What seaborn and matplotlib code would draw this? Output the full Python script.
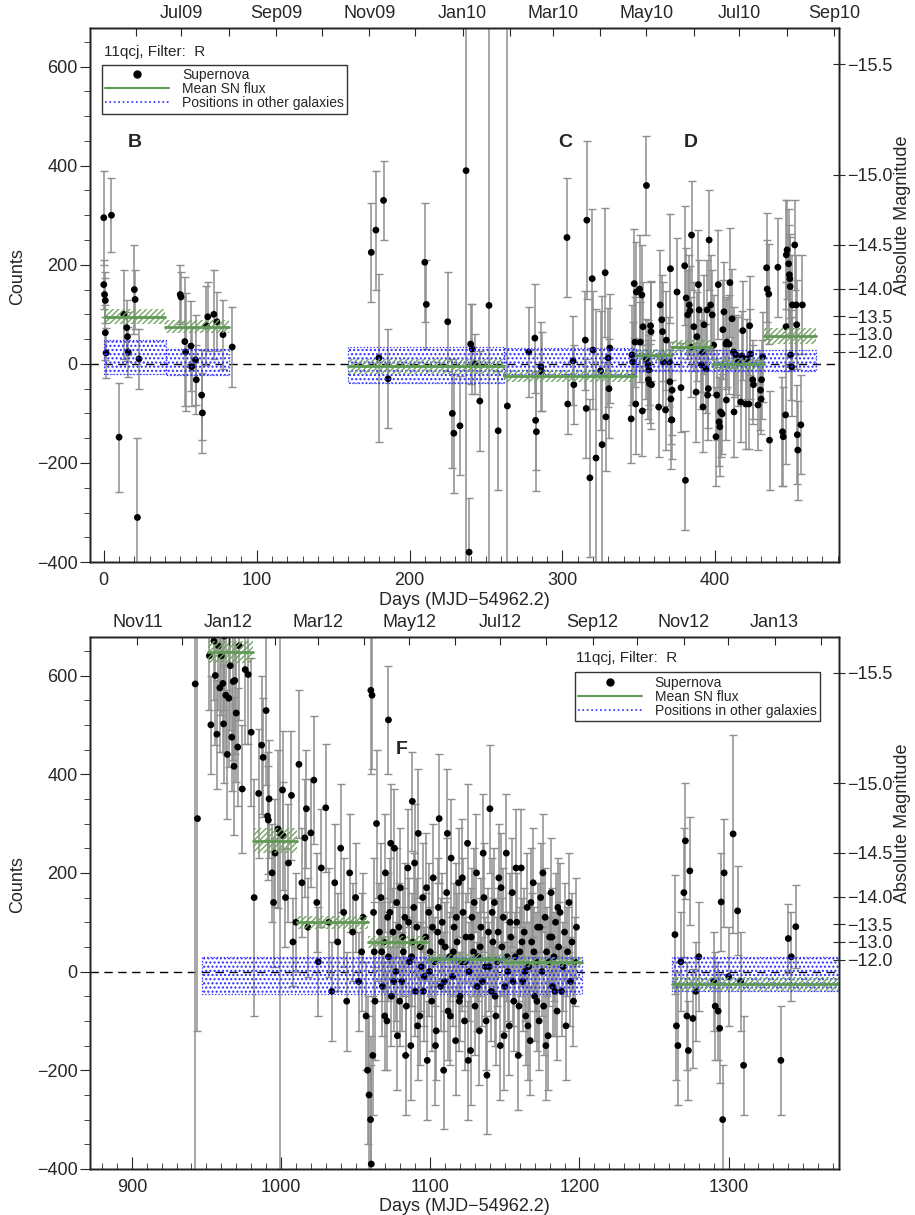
import numpy as np
import pandas as pd
import matplotlib
matplotlib.use("Agg")
import matplotlib.pyplot as plt
import seaborn as sns
from matplotlib.lines import Line2D
from matplotlib.ticker import MultipleLocator, NullLocator

sns.set_style("ticks")
plt.rcParams["font.family"] = ["Liberation Sans", "DejaVu Sans"]
plt.rcParams["hatch.linewidth"] = 1.0

# ---------------- data: top panel (2009-2010) ----------------
top_days = [
    0, 0, 0.5, 1, 1, 1.5, 5, 10, 13, 15,
    15.5, 16, 20, 20.5, 22, 23,
    50, 50.5, 53, 53.5, 57, 57.5, 60, 60.5, 64, 64.5,
    67, 68, 72, 74, 78, 84,
    175, 178, 180, 183, 186, 210, 211, 225, 228, 229,
    233, 237, 239, 240, 241, 243, 246, 252, 258, 264,
    278, 282, 282.5, 283, 286, 286.5, 303, 303.5, 307, 307.5,
    315, 315.6, 316, 318, 319.5, 320, 322, 325, 326, 328,
    328.5, 330, 330.5, 331,
    345, 345.5, 346, 347, 347.5, 348, 348.4, 350.5, 351, 352,
    352.3, 352.7, 355, 355, 356, 356.3, 356.6, 357, 357.7, 358,
    358.3, 363, 364, 365, 365.5, 366, 367.5, 368, 370, 370.3,
    370.7, 371, 371.3, 371.6, 371.8, 375, 377.6, 380, 380.5, 381,
    382, 383, 383.5, 384, 384.5, 386, 387.5, 388, 389, 389.5,
    391, 391.5, 392, 392.7, 394, 394.7, 395, 395.5, 396, 397,
    398, 399, 400.5, 401, 402, 402.5, 403, 403.5, 404.5, 405,
    405.7, 407, 407.3, 407.6, 409, 409.6, 411, 412, 412.3, 413.5,
    415, 416.7, 417.4, 418, 420, 420.6, 422, 422.5, 423, 424.5,
    425, 428, 429.6, 430, 430.3, 431, 433.6, 434, 435, 435.5,
    441, 444, 444.5, 446, 446.3, 446.5, 447, 448, 448.5, 448.8,
    449, 449.3, 450, 450.5, 452, 453, 453.3, 453.7, 454, 456,
    457,
]
top_counts = [
    295, 160, 140, 128, 63, 22, 300, -148, 100, 73,
    55, 24, 150, 130, -310, 10,
    140, 135, 45, 24, 36, -6, 8, -32, -63, -99,
    77, 95, 100, 85, 59, 34,
    225, 270, 12, 330, -30, 205, 120, 85, -100, -140,
    -125, 390, -380, 40, 30, 0, -75, 118, -135, -85,
    24, 52, -114, -137, -6, -16, 255, -81, 6, -42,
    48, -90, 290, -230, 172, 28, -190, -14, -163, 184,
    -107, 12, -50, 32,
    -111, 18, 4, 162, 44, -81, 145, 151, 44, 139,
    -95, 75, 10, 360, -2, -32, -12, -40, 77, 65,
    -42, -87, 119, 89, 65, 4, -93, 48, 4, -36,
    192, -71, -113, -113, -53, 145, -48, 198, -235, 133,
    99, 119, 107, 34, 260, 75, -57, 55, 160, 109,
    -2, 24, -87, 79, -10, 109, -63, -50, 250, 119,
    99, 38, -147, -63, 160, -117, -127, -97, -101, 69,
    105, 40, -73, 44, 40, 164, 91, 24, -97, 18,
    4, -77, 16, 67, -81, 10, -81, 77, 20, -32,
    -42, -83, -53, -71, -32, 14, 194, 151, 141, -154,
    195, -137, -147, -103, 75, 220, 230, 202, 180, 172,
    156, 18, -6, 119, 240, 119, 79, -143, -174, -123,
    119,
]
top_errs = [
    95, 50, 45, 45, 55, 50, 75, 110, 90, 55,
    50, 50, 90, 60, 160, 60,
    60, 50, 130, 120, 90, 80, 90, 70, 90, 80,
    80, 70, 90, 60, 70, 80,
    100, 120, 170, 80, 100, 120, 90, 100, 110, 120,
    100, 900, 110, 80, 90, 60, 100, 900, 120, 900,
    90, 110, 100, 120, 90, 80, 120, 60, 90, 80,
    100, 100, 160, 160, 140, 120, 300, 120, 300, 130,
    110, 100, 100, 110,
    90, 100, 80, 110, 90, 100, 100, 110, 80, 100,
    90, 90, 80, 100, 90, 80, 70, 80, 90, 100,
    90, 100, 110, 90, 100, 90, 80, 100, 90, 80,
    110, 90, 100, 80, 90, 110, 90, 120, 100, 100,
    90, 100, 90, 100, 110, 90, 100, 90, 110, 100,
    90, 80, 90, 100, 90, 100, 90, 80, 100, 100,
    90, 100, 100, 90, 110, 90, 100, 90, 80, 100,
    100, 90, 80, 90, 100, 110, 100, 90, 90, 80,
    90, 80, 90, 100, 90, 80, 90, 100, 90, 80,
    80, 90, 80, 70, 80, 90, 110, 100, 100, 100,
    100, 110, 100, 100, 90, 110, 100, 110, 100, 90,
    100, 90, 100, 100, 90, 100, 90, 100, 100, 100,
    100,
]

# mean SN flux bins: start, end, mean, error
top_green_x0 = [0, 40, 160, 262, 348, 372, 398, 432]
top_green_x1 = [40, 82, 262, 348, 372, 398, 432, 466]
top_green_mean = [95, 75, -5, -25, 18, 35, 0, 57]
top_green_err = [15, 13, 15, 12, 12, 13, 12, 16]
# positions in other galaxies: start, end, low, high
top_blue_x0 = [0, 41, 160, 262, 348]
top_blue_x1 = [41, 82, 262, 348, 466]
top_blue_lo = [-20, -22, -38, -20, -14]
top_blue_hi = [48, 30, 35, 33, 28]

# ---------------- data: bottom panel (2011-2013) ----------------
bot_days = [
    942.5, 944, 952, 953, 955, 956, 957, 958, 959, 960,
    961, 961.5, 962, 963, 964, 965, 966, 967, 968, 968.5,
    969, 970, 971, 972, 974, 976, 978, 980, 982, 985,
    987, 988, 990, 991, 991.5, 992, 994, 995, 996, 998,
    999.5, 1001, 1001.5, 1003, 1005, 1007, 1008, 1010, 1012, 1014,
    1016, 1017, 1018, 1020, 1022, 1024, 1025, 1027, 1030, 1032,
    1034, 1036, 1038, 1040, 1042, 1044, 1046, 1048, 1050, 1052,
    1054, 1055, 1057, 1058, 1059, 1060, 1060.5, 1060.2, 1061, 1061.5,
    1062, 1062.5, 1063, 1064, 1066, 1072, 1088,
    1067, 1068, 1069, 1070, 1071, 1072, 1073, 1074, 1075, 1076,
    1077, 1078, 1079, 1080, 1081, 1082, 1083, 1084, 1085, 1086,
    1087, 1088, 1089, 1090, 1091, 1092, 1093, 1094, 1095, 1096,
    1097, 1098, 1099, 1100, 1101, 1102, 1103, 1104, 1105, 1106,
    1107, 1108, 1109, 1110, 1111, 1112, 1113, 1114, 1115, 1116,
    1117, 1118, 1119, 1120, 1121, 1122, 1123, 1124, 1125, 1126,
    1127, 1128, 1129, 1130, 1131, 1132, 1133, 1134, 1135, 1136,
    1137, 1138, 1139, 1140, 1141, 1142, 1143, 1144, 1145, 1146,
    1147, 1148, 1149, 1150, 1151, 1152, 1153, 1154, 1155, 1156,
    1157, 1158, 1159, 1160, 1161, 1162, 1163, 1164, 1165, 1166,
    1167, 1168, 1169, 1170, 1171, 1172, 1173, 1174, 1175, 1176,
    1177, 1178, 1179, 1180, 1181, 1182, 1183, 1184, 1185, 1186,
    1187, 1188, 1189, 1190, 1191, 1192, 1193, 1194, 1195, 1196,
    1197, 1198,
    1067.5, 1069.5, 1071.5, 1073.5, 1075.5, 1077.5, 1079.5, 1081.5, 1083.5, 1085.5,
    1087.5, 1089.5, 1091.5, 1093.5, 1095.5, 1097.5, 1099.5, 1101.5, 1103.5, 1105.5,
    1107.5, 1109.5, 1111.5, 1113.5, 1115.5, 1117.5, 1119.5, 1121.5, 1123.5, 1125.5,
    1127.5, 1129.5, 1131.5, 1133.5, 1135.5, 1137.5, 1139.5, 1141.5, 1143.5, 1145.5,
    1147.5, 1149.5, 1151.5, 1153.5, 1155.5, 1157.5, 1159.5, 1161.5, 1163.5, 1165.5,
    1167.5, 1169.5, 1171.5, 1173.5, 1175.5, 1177.5, 1179.5, 1181.5, 1183.5, 1185.5,
    1264, 1265, 1266, 1268, 1270, 1271, 1272, 1273, 1274, 1276,
    1278, 1280, 1290, 1291, 1293, 1294, 1295, 1296, 1297, 1300,
    1303, 1306, 1308, 1310, 1335, 1340, 1342, 1345,
]
bot_counts = [
    583, 310, 640, 500, 670, 600, 481, 660, 575, 640,
    584, 502, 680, 560, 440, 554, 620, 475, 588, 416,
    590, 524, 455, 660, 370, 612, 602, 485, 150, 361,
    459, 434, 529, 315, 307, 350, 200, 140, 240, 289,
    280, 368, 275, 150, 220, 357, 60, 100, 420, 180,
    271, 330, 90, 281, 388, 140, 20, 210, 332, 100,
    -40, 180, 60, 250, 120, -60, 200, 80, 150, -20,
    40, 110, -90, -200, -250, -300, -390, 570, 560, -170,
    120, 40, -60, 300, 80, 510, 345,
    150, -30, 60, 200, -100, 30, 120, -50, 80, 250,
    0, -130, 90, 170, -20, 40, 110, -70, 210, 20,
    -150, 60, 130, -40, 90, 280, -90, 10, 150, -10,
    70, -180, 120, 40, -60, 190, 20, -120, 80, 310,
    -30, 100, -200, 50, 160, -80, 30, 230, -10, 90,
    -140, 60, 180, -50, 20, 120, -100, 70, 260, 0,
    -160, 110, 40, -70, 200, 30, -120, 90, -20, 150,
    10, -210, 80, 330, -40, 60, 140, -90, 20, 190,
    -150, 50, 110, -30, 240, 0, -110, 70, 160, -60,
    30, 100, -170, 40, 210, -20, 80, -90, 130, 10,
    -140, 60, 180, -50, 20, 90, -100, 150, 0, -70,
    110, 40, -130, 70, 160, -30, 30, 100, -80, 50,
    120, -40, 10, 80, -110, 40, 140, -20, 60, -60,
    20, 90,
    40, -90, 110, 260, -20, 140, -60, 70, -170, 100,
    30, 220, -110, 50, -40, 170, 0, 90, -150, 130,
    60, -20, 280, -90, 40, 110, -60, 190, 20, -180,
    70, 140, -30, 50, 240, -100, 10, 120, -50, 80,
    170, -130, 30, 100, -20, 210, -70, 60, 0, -110,
    140, 40, -60, 90, 200, -150, 20, 70, -40, 130,
    75, -110, -150, 20, 160, 265, -90, -160, 204, -95,
    -40, 30, -20, -70, -80, -115, 141, -300, 200, -10,
    279, 123, -20, -190, -180, 67, 30, 91,
]
bot_errs = [
    1100, 430, 110, 100, 120, 140, 110, 130, 130, 120,
    140, 120, 150, 120, 130, 140, 130, 110, 160, 140,
    150, 140, 120, 150, 130, 150, 140, 150, 240, 130,
    140, 120, 150, 130, 110, 120, 100, 130, 110, 160,
    700, 120, 110, 100, 120, 130, 90, 100, 150, 110,
    120, 120, 100, 110, 130, 100, 110, 120, 130, 110,
    100, 120, 100, 130, 110, 100, 120, 100, 110, 100,
    120, 90, 110, 150, 160, 170, 200, 170, 150, 120,
    110, 100, 120, 150, 100, 110, 100,
    110, 100, 90, 120, 100, 90, 110, 100, 90, 120,
    100, 110, 90, 120, 100, 90, 110, 100, 120, 90,
    110, 100, 110, 90, 100, 130, 100, 90, 110, 100,
    90, 120, 100, 90, 100, 110, 90, 100, 100, 130,
    90, 100, 120, 90, 110, 100, 90, 120, 100, 90,
    110, 100, 110, 90, 100, 110, 100, 90, 120, 100,
    110, 100, 90, 100, 120, 90, 110, 100, 90, 110,
    100, 120, 90, 130, 100, 90, 110, 100, 90, 110,
    110, 100, 100, 90, 120, 100, 100, 90, 110, 100,
    90, 100, 110, 90, 120, 100, 90, 100, 110, 90,
    110, 100, 110, 90, 100, 90, 100, 110, 90, 100,
    100, 90, 110, 90, 110, 100, 90, 100, 100, 90,
    100, 90, 90, 100, 110, 90, 100, 90, 100, 90,
    90, 100,
    100, 110, 90, 120, 100, 110, 90, 100, 120, 90,
    100, 120, 110, 90, 100, 110, 90, 100, 120, 100,
    90, 100, 130, 100, 90, 110, 100, 120, 90, 120,
    100, 110, 90, 100, 120, 100, 90, 110, 100, 90,
    110, 110, 90, 100, 90, 120, 100, 90, 100, 110,
    110, 90, 100, 90, 120, 110, 90, 100, 90, 100,
    120, 110, 120, 100, 130, 118, 110, 100, 110, 100,
    100, 110, 100, 110, 100, 110, 100, 110, 110, 100,
    200, 90, 100, 100, 110, 70, 90, 84,
]

bot_green_x0 = [951, 981, 1011, 1058, 1098, 1150, 1262]
bot_green_x1 = [981, 1011, 1058, 1098, 1150, 1202, 1380]
bot_green_mean = [648, 265, 100, 60, 25, 20, -25]
bot_green_err = [22, 25, 13, 12, 10, 10, 15]
bot_blue_x0 = [947, 1262]
bot_blue_x1 = [1202, 1380]
bot_blue_lo = [-45, -40]
bot_blue_hi = [30, 30]

# magnitude axis calibration (counts at M = -14.0)
MAG_TICKS = [-15.5, -15.0, -14.5, -14.0, -13.5, -13.0, -12.0]
MAG_LABELS = ["\u221215.5", "\u221215.0", "\u221214.5", "\u221214.0",
              "\u221213.5", "\u221213.0", "\u221212.0"]
COUNTS_AT_M14 = 152.0
MJD0 = 54962.2

GREEN = "#74a566"
GREEN_LINE = "#5f9a55"
BLUE = "#2a2aff"
ERRC = "#8e8e8e"


def mag_to_counts(m):
    return COUNTS_AT_M14 * 10 ** (-0.4 * (np.asarray(m) + 14.0))


def month_ticks(start, end):
    months = np.arange(np.datetime64(start, "M"), np.datetime64(end, "M") + 1)
    mjd = (months.astype("datetime64[D]") - np.datetime64("1858-11-17")).astype(float)
    labels = [pd.Timestamp(m.astype("datetime64[D]")).strftime("%b%y") for m in months]
    return mjd - MJD0, labels


def draw_panel(ax, days, counts, errs, gx0, gx1, gm, ge, bx0, bx1, blo, bhi,
               xlim, ylim, mstart, mend, label_first):
    ax.set_xlim(*xlim)
    ax.set_ylim(*ylim)
    ax.axhline(0, color="k", ls=(0, (6, 4)), lw=1.0, zorder=2)
    ax.errorbar(days, counts, yerr=errs, fmt="none", ecolor=ERRC, elinewidth=1.1,
                capsize=3, capthick=1.0, zorder=3)
    df = pd.DataFrame({"day": days, "counts": counts})
    sns.scatterplot(data=df, x="day", y="counts", ax=ax, color="k", s=24,
                    edgecolor="none", zorder=4, legend=False)
    for x0, x1, lo, hi in zip(bx0, bx1, blo, bhi):
        ax.fill_between([x0, x1], [lo, lo], [hi, hi], facecolor="none",
                        edgecolor=BLUE, hatch="....", linewidth=0.9,
                        linestyle=":", zorder=5)
    for x0, x1, m, e in zip(gx0, gx1, gm, ge):
        ax.fill_between([x0, x1], [m - e, m - e], [m + e, m + e], facecolor="none",
                        edgecolor=GREEN, hatch="//////", linewidth=0, zorder=6)
        ax.plot([x0, x1], [m, m], color=GREEN_LINE, lw=2.0, zorder=6)

    ax.set_xlabel("Days (MJD\u221254962.2)", fontsize=13, labelpad=2)
    ax.set_ylabel("")
    ax.text(-0.097, 0.535, "Counts", rotation=90, fontsize=13, ha="center",
            va="center", transform=ax.transAxes)
    ax.xaxis.set_major_locator(MultipleLocator(100))
    ax.xaxis.set_minor_locator(MultipleLocator(10))
    ax.yaxis.set_minor_locator(MultipleLocator(50))
    ax.tick_params(axis="x", which="major", direction="in", length=9, labelsize=13, pad=7)
    ax.tick_params(axis="x", which="minor", direction="in", length=4)
    ax.tick_params(axis="y", which="major", direction="out", length=7, labelsize=13, pad=2)
    ax.tick_params(axis="y", which="minor", direction="out", length=4)
    ax.tick_params(top=False, right=False, which="both")
    ax.set_yticks([-400, -200, 0, 200, 400, 600])
    ax.set_yticklabels(["\u2212400", "\u2212200", "0", "200", "400", "600"])

    # month axis on top
    axt = ax.twiny()
    axt.set_xlim(*xlim)
    mdays, mlabels = month_ticks(mstart, mend)
    keep = [(d, l) for d, l in zip(mdays, mlabels) if xlim[0] <= d <= xlim[1]]
    axt.set_xticks([d for d, _ in keep])
    lab = []
    for i, (d, l) in enumerate(keep):
        lab.append(l if (i % 2 == (0 if label_first else 1)) else "")
    axt.set_xticklabels(lab)
    axt.tick_params(axis="x", direction="in", length=6, labelsize=13, pad=4)
    axt.xaxis.set_minor_locator(NullLocator())

    # magnitude axis on right
    axr = ax.twinx()
    axr.set_ylim(*ylim)
    axr.set_yticks(mag_to_counts(MAG_TICKS))
    axr.set_yticklabels(MAG_LABELS)
    axr.yaxis.set_minor_locator(NullLocator())
    axr.tick_params(axis="y", direction="inout", length=9, labelsize=13, pad=1)
    axr.text(1.085, 0.65, "Absolute Magnitude", rotation=90, fontsize=13,
             ha="center", va="center", transform=axr.transAxes)
    for a in (ax, axt, axr):
        for s in a.spines.values():
            s.set_linewidth(1.0)
            s.set_color("#222222")
    return axt, axr


fig = plt.figure(figsize=(9.15, 12.15), dpi=100)
ax1 = fig.add_axes([0.0984, 0.5374, 0.8186, 0.4396])
ax2 = fig.add_axes([0.0984, 0.0379, 0.8186, 0.4378])

draw_panel(ax1, top_days, top_counts, top_errs,
           top_green_x0, top_green_x1, top_green_mean, top_green_err,
           top_blue_x0, top_blue_x1, top_blue_lo, top_blue_hi,
           (-9, 481), (-400, 678), "2009-06", "2010-09", False)
draw_panel(ax2, bot_days, bot_counts, bot_errs,
           bot_green_x0, bot_green_x1, bot_green_mean, bot_green_err,
           bot_blue_x0, bot_blue_x1, bot_blue_lo, bot_blue_hi,
           (872, 1374), (-400, 678), "2011-11", "2013-02", True)

handles = [
    Line2D([], [], marker="o", color="k", ls="none", markersize=5),
    Line2D([], [], color=GREEN_LINE, lw=1.5),
    Line2D([], [], color=BLUE, lw=1.2, ls=":"),
]
labels = ["Supernova", "Mean SN flux", "Positions in other galaxies"]


def add_legend(ax, x, y, tx, ty):
    leg = ax.legend(handles, labels, loc="upper left", bbox_to_anchor=(x, y),
                    frameon=True, fancybox=False, fontsize=10, handlelength=4.6,
                    borderpad=0.25, labelspacing=0.0, handletextpad=0.9,
                    borderaxespad=0.0)
    leg.get_frame().set_edgecolor("k")
    leg.get_frame().set_linewidth(1.0)
    leg.set_zorder(10)
    ax.text(tx, ty, "11qcj, Filter:  R", transform=ax.transAxes, fontsize=11,
            ha="left", va="center", zorder=10)


add_legend(ax1, 0.016, 0.931, 0.018, 0.955)
add_legend(ax2, 0.647, 0.934, 0.649, 0.9605)

for ax, txt, x, y in [(ax1, "B", 20, 446), (ax1, "C", 302, 446), (ax1, "D", 384, 446),
                      (ax2, "F", 1081, 450)]:
    ax.text(x, y, txt, fontsize=14, fontweight="bold", ha="center", va="center", zorder=10)

fig.savefig("out.png", dpi=100)
